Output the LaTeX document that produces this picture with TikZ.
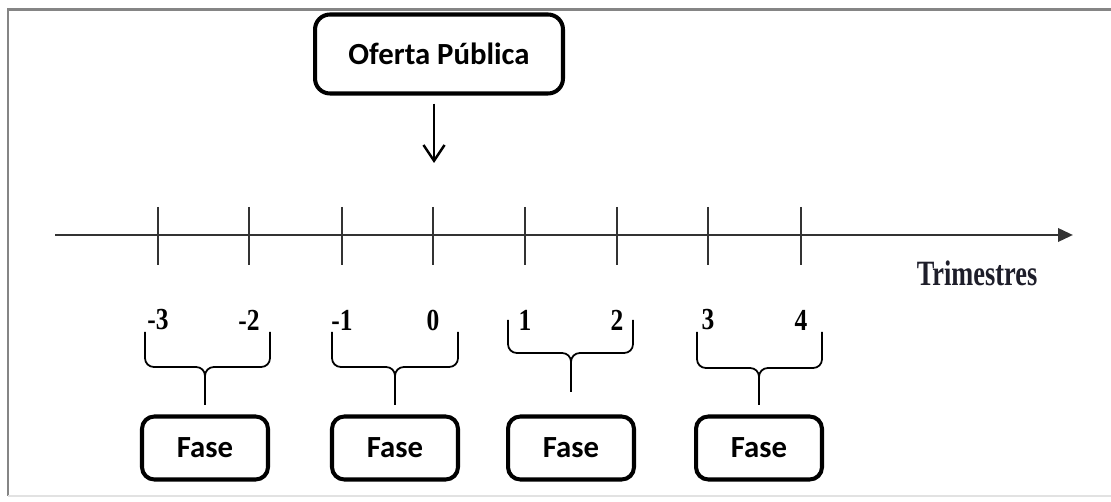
\documentclass[tikz,border=0pt]{standalone}
\usepackage{fontspec}
\setmainfont{Carlito}
\newfontfamily\tnr{Liberation Serif}
\usetikzlibrary{arrows.meta, positioning, calc}
\definecolor{framegray}{HTML}{858585}
\definecolor{framelight}{HTML}{E2E2E2}
\definecolor{axisgray}{HTML}{333333}
\definecolor{trimink}{HTML}{1E1E2A}

\begin{document}
\begin{tikzpicture}[
  x=0.02cm, y=-0.02cm,
  box/.style={rectangle, rounded corners=7pt, draw, line width=2.3pt, align=center, inner sep=0pt, font=\fontsize{17.5}{20}\selectfont\bfseries},
  fase/.style={box, minimum width=2.52cm, minimum height=1.26cm},
  tickmark/.style={line width=1.1pt, axisgray},
  num/.style={font=\tnr\fontsize{14.5}{16}\selectfont\bfseries},
  brace/.style={line width=1pt, rounded corners=5pt},
]
\useasboundingbox (0,0) rectangle (1111,502);

% Frame
\draw[framegray, line width=1.7pt] (1120,10) -- (8,10) -- (8,496);
\draw[framelight, line width=1pt] (8,496) -- (1120,496);

% Public offer
\node[box, rounded corners=8.5pt, minimum width=4.96cm, minimum height=1.58cm] (oferta) at (439,54) {Oferta Pública};
\coordinate (ipo) at (434,163);
\draw[-{Straight Barb[length=9pt,width=12pt]}, line width=1.4pt] ($(ipo |- oferta.south)+(0,8)$) -- (ipo);

% Time axis
\coordinate (axstart) at (55,235);
\coordinate (axend) at (1073,235);
\draw[-{Triangle[length=8.5pt,width=7.5pt]}, line width=1.6pt, axisgray] (axstart) -- (axend);
\node[font=\tnr\fontsize{15}{17}\selectfont\bfseries, text=trimink] (trim) at (977,273) {\scalebox{1}[1.35]{Trimestres}};

\foreach \x/\t [count=\i] in {158/-3, 249/-2, 342/-1, 433/0, 525/1, 617/2, 708/3, 801/4} {
  \draw[tickmark] (\x,207) -- (\x,265);
  \node[num] (q\i) at (\x,320) {\scalebox{1}[1.2]{\t}};
}

% Phases
\foreach \l/\r/\c/\top/\mid/\tip [count=\i] in {145/270/205/332/367/405, 332/458/395/332/367/405, 508/633/571/320/353/392, 697/822/759/332/368/405} {
  \draw[brace] (\l,\top) |- (\c,\mid) -- (\c,\tip);
  \draw[brace] (\r,\top) |- (\c,\mid) -- (\c,\tip);
  \node[fase] (fase\i) at (\c,448) {Fase};
}

\end{tikzpicture}
\end{document}
